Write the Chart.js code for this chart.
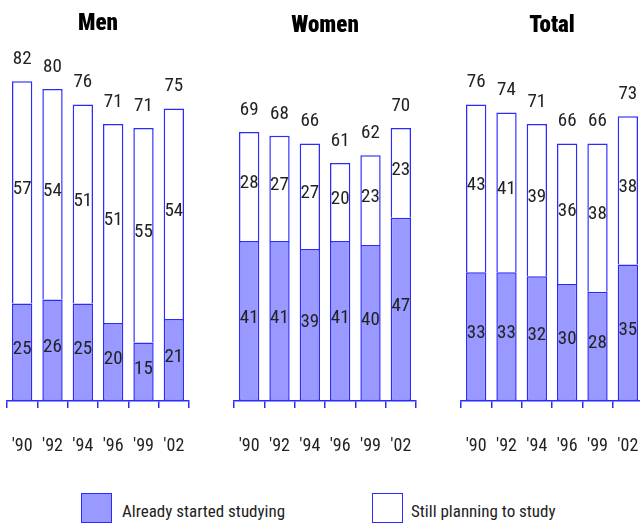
<!DOCTYPE html>
<html>
<head>
<meta charset="utf-8">
<script src="https://cdn.jsdelivr.net/npm/chart.js@4"></script>
<style>
  body { margin:0; width:640px; height:524px; overflow:hidden; background:#fff; position:relative;
         font-family:'Roboto Condensed',Roboto,sans-serif; }
  .panel { position:absolute; top:0; width:190px; height:484px; }
  .key { position:absolute; top:493px; width:29px; height:28px; border:1.5px solid #2b2bff; }
  .keytxt { position:absolute; top:501px; font-size:17px; line-height:20px; color:#222; white-space:nowrap; }
</style>
</head>
<body>
<div class="panel" style="left:3px"><canvas id="chartMen"></canvas></div>
<div class="panel" style="left:230px"><canvas id="chartWomen"></canvas></div>
<div class="panel" style="left:457px"><canvas id="chartTotal"></canvas></div>

<div class="key" style="left:81px;background:#9999ff"></div>
<div class="keytxt" style="left:122px">Already started studying</div>
<div class="key" style="left:372px;background:#fff"></div>
<div class="keytxt" style="left:411px">Still planning to study</div>

<script>
const years = ["'90", "'92", "'94", "'96", "'99", "'02"];

const menStarted = [25, 26, 25, 20, 15, 21];
const menPlanning = [57, 54, 51, 51, 55, 54];
const menTotal = [82, 80, 76, 71, 71, 75];

const womenStarted = [41, 41, 39, 41, 40, 47];
const womenPlanning = [28, 27, 27, 20, 23, 23];
const womenTotal = [69, 68, 66, 61, 62, 70];

const totalStarted = [33, 33, 32, 30, 28, 35];
const totalPlanning = [43, 41, 39, 36, 38, 38];
const totalTotal = [76, 74, 71, 66, 66, 73];

const BLUE = '#2b2bff';
const FILL = '#9999ff';
const FONT = "'Roboto Condensed', Roboto, sans-serif";

// draws the numbers inside each segment and the sum above each bar
const valueLabels = {
  id: 'valueLabels',
  afterDatasetsDraw(chart, args, opts) {
    const ctx = chart.ctx;
    ctx.save();
    ctx.font = '19px ' + FONT;
    ctx.fillStyle = '#222';
    ctx.textAlign = 'center';
    ctx.textBaseline = 'middle';
    chart.data.datasets.forEach((ds, i) => {
      chart.getDatasetMeta(i).data.forEach((bar, j) => {
        const p = bar.getProps(['x', 'y', 'base'], true);
        ctx.fillText(ds.data[j], p.x, (p.y + p.base) / 2 - 3);
      });
    });
    const top = chart.getDatasetMeta(chart.data.datasets.length - 1).data;
    top.forEach((bar, j) => {
      const p = bar.getProps(['x', 'y'], true);
      ctx.fillText(opts.totals[j], p.x, p.y - 22);
    });
    ctx.restore();
  }
};

const makePanel = (id, title, started, planning, totals, titleTop) => {
  var ctx = document.getElementById(id).getContext('2d');
  return new Chart(ctx, {
    type: 'bar',
    data: {
      labels: years,
      datasets: [{
        label: 'Already started studying',
        data: started,
        backgroundColor: FILL,
        borderColor: BLUE,
        borderWidth: 1.5,
        borderSkipped: false
      }, {
        label: 'Still planning to study',
        data: planning,
        backgroundColor: '#ffffff',
        borderColor: BLUE,
        borderWidth: 1.5,
        borderSkipped: 'start'
      }]
    },
    options: {
      responsive: true,
      maintainAspectRatio: false,
      animation: false,
      layout: { padding: { left: 4, right: 4, top: 0, bottom: 0 } },
      datasets: { bar: { categoryPercentage: 1, barPercentage: 0.67 } },
      scales: {
        x: {
          stacked: true,
          grid: { display: true, drawOnChartArea: false, drawTicks: true, tickLength: 7, color: BLUE, lineWidth: 1.5, offset: true },
          border: { display: true, color: BLUE, width: 1.5 },
          // tall line height pushes the year labels down without widening the side padding
          ticks: { color: '#222', padding: 3, autoSkip: false, maxRotation: 0, minRotation: 0,
                   font: { family: FONT, size: 18, lineHeight: '70px' } }
        },
        y: { stacked: true, display: false, min: 0, max: 90 }
      },
      plugins: {
        legend: { display: false },
        tooltip: { enabled: false },
        title: {
          display: true,
          text: title,
          color: '#000',
          font: { family: FONT, size: 23, weight: '900' },
          padding: { top: titleTop, bottom: 22.4 - titleTop }
        },
        valueLabels: { totals: totals }
      }
    },
    plugins: [valueLabels]
  });
};

makePanel('chartMen', 'Men', menStarted, menPlanning, menTotal, 10);
makePanel('chartWomen', 'Women', womenStarted, womenPlanning, womenTotal, 12);
makePanel('chartTotal', 'Total', totalStarted, totalPlanning, totalTotal, 12);
</script>
</body>
</html>
